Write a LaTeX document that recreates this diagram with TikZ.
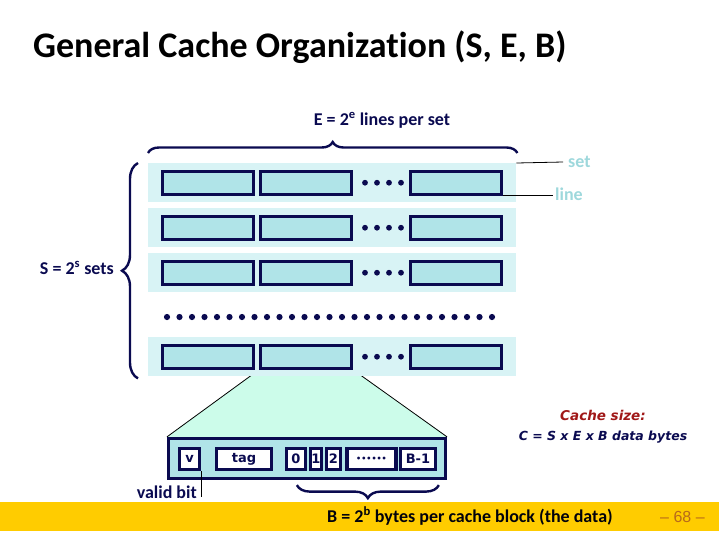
\documentclass[tikz,border=0pt]{standalone}
\usepackage{fontspec}
\setmainfont{Carlito}[Ligatures={NoCommon}]
\newfontfamily\dvs{DejaVu Sans}
\newfontfamily\lib{Liberation Sans}
\usetikzlibrary{decorations.pathreplacing,calc}
\pgfdeclarelayer{bg}
\pgfsetlayers{bg,main}
\definecolor{navy}{HTML}{0A0A50}
\definecolor{setbg}{HTML}{D8F3F5}
\definecolor{boxfill}{HTML}{B0E4E8}
\definecolor{mint}{HTML}{CCFCEA}
\definecolor{teal}{HTML}{9ED8DC}
\definecolor{barY}{HTML}{FFCC00}
\definecolor{pagenum}{HTML}{B86A1A}
\definecolor{darkred}{HTML}{A01818}
\newcommand\fsz[1]{\fontsize{#1}{#1}\selectfont}
\begin{document}
\begin{tikzpicture}[x=1pt,y=-1pt,
  setrow/.style={fill=setbg, minimum width=368pt, minimum height=39pt, inner sep=0pt, anchor=north west, draw=none},
  lbox/.style={draw=navy, line width=3.2pt, fill=boxfill, minimum width=91pt, minimum height=23pt, inner sep=0pt},
  cbox/.style={draw=navy, line width=3.2pt, fill=white, minimum height=21pt, inner sep=0pt, font=\dvs\bfseries\fsz{13}, text=navy},
  lbl/.style={text=navy, font=\bfseries\fsz{18}, inner sep=0pt},
  tlbl/.style={text=teal, font=\bfseries\fsz{18}, inner sep=0pt},
  brc/.style={draw=navy, line width=2.4pt, decorate},
  thinline/.style={draw=black, line width=0.8pt}]
\useasboundingbox (0,0) rectangle (719,539);

% title
\node[anchor=base west, inner sep=0pt, font=\bfseries\fsz{36}] (title) at (33,57) {General Cache Organization (S, E, B)};

% sets
\foreach \i/\y in {1/163,2/208,3/253,4/337} {
  \node[setrow] (row\i) at (148,\y) {};
  \node[lbox] (r\i-1) at ($(row\i.west)+(60,0)$) {};
  \node[lbox] (r\i-2) at ($(row\i.west)+(158,0)$) {};
  \node[lbox] (r\i-3) at ($(row\i.west)+(308,0)$) {};
  \foreach \dx in {217,229,241,253} {
    \fill[navy] ($(row\i.west)+(\dx,0)$) circle (2.9);
  }
}
\foreach \k in {0,...,26} {
  \fill[navy] (167+12.5*\k,317) circle (3.1);
}

% top brace
\draw[brc, decoration={brace, amplitude=11pt}] ($(row1.north west)+(0,-10)$) -- ($(row1.north east)+(1,-10)$);
\node[lbl, anchor=base] (Elbl) at (382,125) {E = 2\textsuperscript{e} lines per set};

% left brace
\draw[brc, decoration={brace, amplitude=16pt}] ($(row4.south west)+(-10,2)$) -- ($(row1.north west)+(-10,0)$);
\node[lbl, anchor=east] (Slbl) at (114,268) {S = 2\textsuperscript{s} sets};

% set / line labels
\node[tlbl, anchor=west] (setlbl) at (568,162) {set};
\draw[thinline] (row1.north east) -- (setlbl.west -| 563,0);
\node[tlbl, anchor=west] (linelbl) at (555,194) {line};
\draw[thinline] (r1-3.south east) -- (r1-3.south east -| 553,0);

% detail line
\node[draw=navy, line width=3.2pt, fill=boxfill, minimum width=277pt, minimum height=40pt, inner sep=0pt] (detail) at (307,458.5) {};
\node[cbox, minimum width=20pt] (v) at (189.5,459) {v};
\node[cbox, minimum width=55pt] (tag) at (244,459) {tag};
\node[cbox, minimum width=19pt] (b0) at (296,459) {0};
\node[cbox, minimum width=11pt] (b1) at (316,459) {1};
\node[cbox, minimum width=14pt] (b2) at (333.5,459) {2};
\node[cbox, minimum width=49pt, font=\dvs\bfseries\fsz{8}] (bd) at (371.5,459) {••••••};
\node[cbox, minimum width=34.5pt] (bm1) at (418,459) {B-1};

% trapezoid
\begin{pgfonlayer}{bg}
  \fill[mint] (r4-2.south west) -- (r4-2.south east) -- (detail.north east) -- (detail.north west) -- cycle;
  \draw[thinline] (r4-2.south west) -- (detail.north west);
  \draw[thinline] (r4-2.south east) -- (detail.north east);
\end{pgfonlayer}

% valid bit
\node[lbl, anchor=base east] (valid) at (197,498) {valid bit};
\draw[thinline] (v.south east) -- (v.south east |- 0,497);

% bottom bar
\fill[barY] (0,502) rectangle (719,531);
\draw[brc, decoration={brace, amplitude=13pt}] ($(bm1.south east)+(2,14)$) -- ($(b0.south west)+(12,14)$);
\node[lbl, anchor=base west, text=black!85!navy] (Blbl) at (327,522) {B = 2\textsuperscript{b} bytes per cache block (the data)};
\node[anchor=base west, inner sep=0pt, font=\lib\fsz{16}, text=pagenum] (pg) at (660,522) {– 68 –};

% cache size
\node[anchor=base, inner sep=0pt, font=\dvs\bfseries\itshape\fsz{13.5}, text=darkred] (cs) at (603,420) {Cache size:};
\node[anchor=base, inner sep=0pt, font=\dvs\bfseries\itshape\fsz{12.5}, text=navy] (cf) at (603,440) {C = S x E x B data bytes};
\end{tikzpicture}
\end{document}
